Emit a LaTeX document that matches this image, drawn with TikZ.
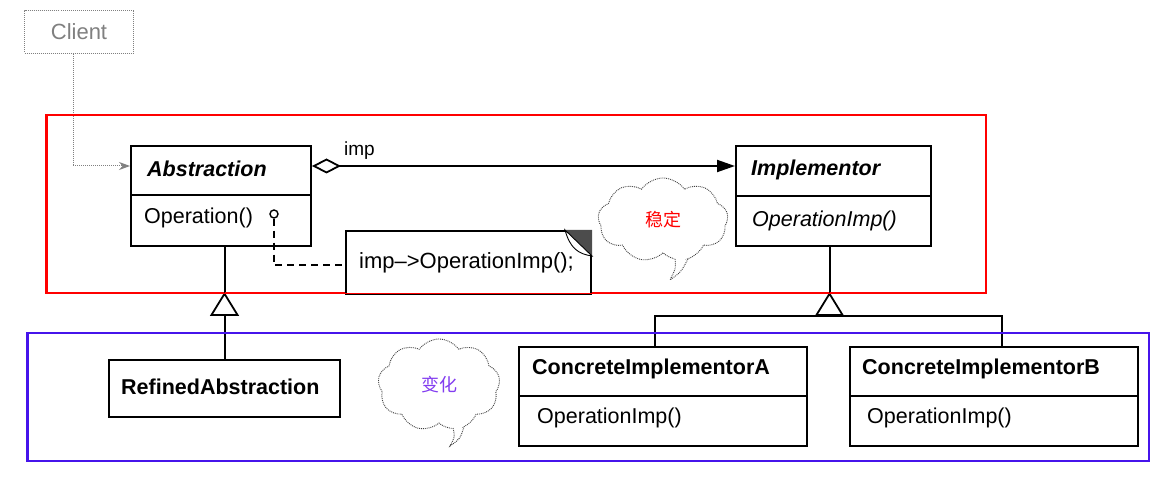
\documentclass[tikz,border=0pt]{standalone}
\usepackage{fontspec}
\setmainfont{Liberation Sans}
\newfontfamily\cjk{Noto Sans CJK SC}
\usetikzlibrary{arrows.meta,shapes.symbols}
\definecolor{boxred}{RGB}{255,0,0}
\definecolor{boxblue}{RGB}{70,20,235}
\definecolor{cjkviolet}{RGB}{130,60,240}
\begin{document}
\begin{tikzpicture}[x=1pt,y=-1pt,
  uml/.style={line width=2pt},
  umlbox/.style={draw, line width=2pt, rectangle, anchor=north west, inner sep=0pt},
  txt/.style={anchor=west, inner sep=0pt, font=\fontsize{21.5}{24}\selectfont},
  btxt/.style={anchor=west, inner sep=0pt, font=\fontsize{21.5}{24}\selectfont\bfseries},
  region/.style={draw, line width=1.5pt, rectangle, anchor=north west, inner sep=0pt},
  cloudnode/.style={cloud, cloud puffs=9, cloud puff arc=110, aspect=1.4, draw=black!75, densely dotted, line width=0.9pt, fill=white, inner sep=0pt},
  inherit/.style={uml, -{Triangle[open, length=24pt, width=29pt, line width=1.8pt]}}
]
\useasboundingbox (0,0) rectangle (1162,478);

% regions
\node[region, draw=boxred, minimum width=939pt, minimum height=177pt] (stable) at (46,115) {};
\node[region, draw=boxblue, minimum width=1121pt, minimum height=127pt] (vary) at (27,333) {};

% Client
\node[draw=gray, densely dotted, line width=1pt, anchor=north west, minimum width=109pt, minimum height=43pt, inner sep=0pt, text=gray, font=\fontsize{22}{24}\selectfont] (client) at (24,10) {Client};

% Abstraction
\node[umlbox, fill=white, minimum width=180pt, minimum height=100pt] (abs) at (130,145) {};
\draw[uml] ([yshift=-50pt]abs.north west) -- ([yshift=-50pt]abs.north east);
\node[btxt, font=\fontsize{21.5}{24}\selectfont\bfseries\itshape] (absname) at (147,169) {Abstraction};
\node[txt] (absop) at (144,218) {Operation()};
\node[circle, draw, line width=1.4pt, minimum size=8pt, inner sep=0pt] (opc) at (274,214) {};

% Implementor
\node[umlbox, fill=white, minimum width=195pt, minimum height=100pt] (impl) at (735,145) {};
\draw[uml] ([yshift=-51pt]impl.north west) -- ([yshift=-51pt]impl.north east);
\node[btxt, font=\fontsize{21.5}{24}\selectfont\bfseries\itshape] (implname) at (751,170) {Implementor};
\node[txt, font=\fontsize{21.5}{24}\selectfont\itshape] (implop) at (752,221) {OperationImp()};

% aggregation
\draw[uml, {Diamond[open, length=29pt, width=15pt, line width=1.8pt]}-{Triangle[length=18pt, width=12pt]}]
  ([yshift=-21pt]abs.north east) -- ([yshift=-21pt]impl.north west);
\node[anchor=south west, inner sep=0pt, font=\fontsize{19}{21}\selectfont] (implbl) at (344,160) {imp};

% client connector
\draw[gray, densely dotted, line width=1pt, -{Stealth[length=11pt, width=8pt]}]
  ([xshift=-6pt]client.south) |- ([yshift=-21pt]abs.north west);

% note
\node[umlbox, fill=white, minimum width=245pt, minimum height=63pt] (note) at (345,230) {};
\fill[black!70] ([xshift=-27pt]note.north east) -- (note.north east) -- ([yshift=-26pt]note.north east) -- cycle;
\filldraw[fill=white, draw=black, line width=0.9pt] ([xshift=-27pt]note.north east)
  .. controls ([xshift=-22pt,yshift=-18pt]note.north east) and ([xshift=-14pt,yshift=-24pt]note.north east) .. ([yshift=-26pt]note.north east) -- cycle;
\node[txt, font=\fontsize{22}{24}\selectfont] (notetext) at (359,263) {imp--{>}OperationImp();};
\draw[uml, dash pattern=on 7pt off 5pt] (opc.south) |- ([yshift=-3pt]note.west);

% clouds
\node[cloudnode, minimum width=130pt, minimum height=84pt] (c1) at (663,220) {};
\fill[white] (675,255) -- (670,280) -- (689,255) -- cycle;
\draw[black!75, densely dotted, line width=0.9pt] (675,259) .. controls (676,268) .. (670,280) .. controls (681,272) .. (688,259);
\node[text=boxred, font=\cjk\fontsize{18}{20}\selectfont] (c1t) at (c1.center) {稳定};

\node[cloudnode, minimum width=122pt, minimum height=92pt] (c2) at (439,385) {};
\fill[white] (452,424) -- (450,446) -- (466,422) -- cycle;
\draw[black!75, densely dotted, line width=0.9pt] (453,428) .. controls (455,437) .. (450,446) .. controls (460,439) .. (464,427);
\node[text=cjkviolet, font=\cjk\fontsize{18}{20}\selectfont] (c2t) at (c2.center) {变化};

% RefinedAbstraction
\node[umlbox, fill=white, minimum width=231pt, minimum height=57pt] (ra) at (108,359) {};
\node[btxt] (raname) at (121,387) {RefinedAbstraction};
\coordinate (t1) at (ra.north |- 0,292);
\draw[uml] (abs.south -| t1) -- (t1);
\draw[inherit] (ra.north) -- (t1);

% Concrete implementors
\node[umlbox, fill=white, minimum width=288pt, minimum height=99pt] (ca) at (518,346) {};
\draw[uml] ([yshift=-50pt]ca.north west) -- ([yshift=-50pt]ca.north east);
\node[btxt] (caname) at (532,369) {ConcreteImplementorA};
\node[txt] (caop) at (537,418) {OperationImp()};

\node[umlbox, fill=white, minimum width=288pt, minimum height=99pt] (cb) at (849,346) {};
\draw[uml] ([yshift=-50pt]cb.north west) -- ([yshift=-50pt]cb.north east);
\node[btxt] (cbname) at (862,369) {ConcreteImplementorB};
\node[txt] (cbop) at (867,418) {OperationImp()};

\coordinate (t2) at ([xshift=-4pt]impl.south |- 0,292);
\coordinate (hb) at (t2 |- 0,316);
\draw[uml] ([xshift=-4pt]impl.south) -- (t2);
\draw[uml] ([xshift=-8pt]ca.north) |- ([xshift=8pt]cb.north |- hb) -- ([xshift=8pt]cb.north);
\draw[inherit] ([yshift=-1pt]hb) -- (t2);

% redraw region borders on top
\draw[boxred, line width=1.5pt] (stable.north west) rectangle (stable.south east);
\draw[boxblue, line width=1.5pt] (vary.north west) rectangle (vary.south east);
\end{tikzpicture}
\end{document}
